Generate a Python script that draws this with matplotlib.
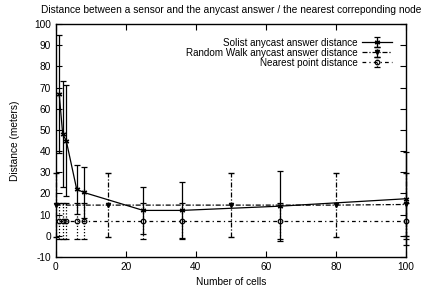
import matplotlib
matplotlib.use("Agg")
import matplotlib.pyplot as plt

plt.rcParams['font.family'] = ['Liberation Sans', 'DejaVu Sans']
plt.rcParams['font.size'] = 7.3
plt.rcParams['axes.unicode_minus'] = False

# Solist anycast answer distance
solist_x = [1, 2, 3, 6, 8, 25, 36, 64, 100]
solist_y = [67, 48, 45, 22, 20.5, 12, 12, 14, 17.5]
solist_err = [28, 25, 26, 11.5, 12, 11, 13.2, 16.5, 22]

# Random Walk anycast answer distance
walk_x = [0, 15, 50, 80, 100]
walk_y = [14.5, 14.5, 14.5, 14.5, 14.8]
walk_err = [15, 15, 15, 15, 15]

# Nearest point distance
near_x = [1, 2, 3, 6, 8, 25, 36, 64, 100]
near_y = [7, 7, 7, 7, 7, 7, 7, 7, 7]
near_err = [8.3, 8.3, 8.3, 8.3, 8.3, 8.3, 8.3, 8.3, 8.3]

fig = plt.figure(figsize=(4.21, 2.91), dpi=100)
ax = fig.add_axes([0.1323, 0.1168, 0.8314, 0.8007])

e1 = ax.errorbar(solist_x, solist_y, yerr=solist_err, color='black', lw=0.9,
                 elinewidth=0.9, capsize=2.5, marker=(6, 2, 0), ms=4, mew=0.9,
                 label='Solist anycast answer distance', clip_on=False)

e2 = ax.errorbar(walk_x, walk_y, yerr=walk_err, color='black', lw=0.9,
                 elinewidth=0.9, capsize=2.5, marker='v', ms=3,
                 label='Random Walk anycast answer distance', clip_on=False)
e2[0].set_dashes([4, 1.5, 1, 1.5])
for b in e2[2]:
    b.set_linestyle((0, (4, 1.5, 1, 1.5)))

e3 = ax.errorbar(near_x, near_y, yerr=near_err, color='black', lw=0.9,
                 elinewidth=0.9, capsize=2.5, marker='o', ms=3.3, mfc='none',
                 mew=0.9, label='Nearest point distance', clip_on=False)
e3[0].set_dashes([3, 2.5, 1, 2.5])
for b in e3[2]:
    b.set_linestyle((0, (1, 1.5)))

ax.set_xlim(0, 100)
ax.set_ylim(-10, 100)
ax.set_xticks([0, 20, 40, 60, 80, 100])
ax.set_yticks(range(-10, 101, 10))
ax.tick_params(direction='in', top=True, right=True, length=4, width=0.8)
for s in ax.spines.values():
    s.set_linewidth(1.0)

ax.set_title('Distance between a sensor and the anycast answer / the nearest correponding node',
             fontsize=7.3, pad=8)
ax.set_xlabel('Number of cells', labelpad=4)
ax.set_ylabel('Distance (meters)', labelpad=10)

leg = ax.legend(loc='upper right', frameon=False, markerfirst=False,
                handlelength=3.0, handletextpad=0.5, labelspacing=0.0,
                borderaxespad=1.0, fontsize=7.1)
col = leg._legend_box._children[-1]._children[0]
col.align = 'right'

fig.savefig('out.png', dpi=100)
